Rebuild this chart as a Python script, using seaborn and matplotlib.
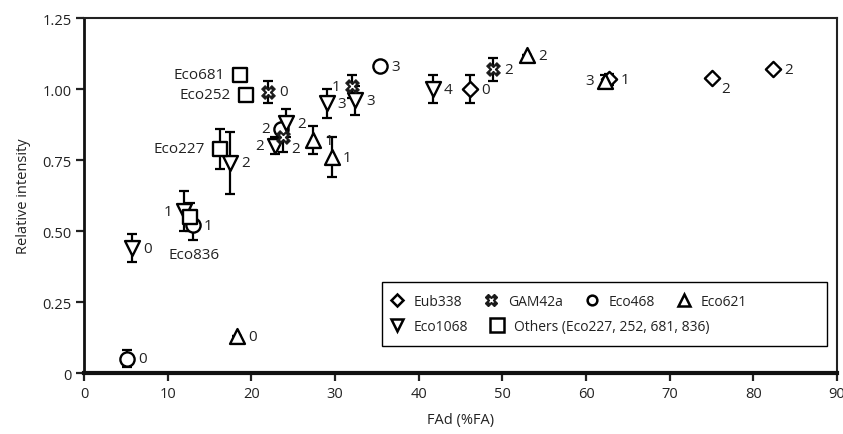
import matplotlib
matplotlib.use("Agg")
import matplotlib.pyplot as plt
from matplotlib.lines import Line2D
from matplotlib.patches import Rectangle
import seaborn as sns

# Data
eub338_x = [46.1, 62.8, 75.0, 82.3]
eub338_y = [1.00, 1.035, 1.04, 1.07]
eub338_err = [0.05, 0.02, 0.0, 0.0]
eub338_lab = ["0", "1", "2", "2"]

gam42a_x = [22.0, 23.8, 32.0, 48.9]
gam42a_y = [0.99, 0.83, 1.01, 1.07]
gam42a_err = [0.04, 0.05, 0.04, 0.04]
gam42a_lab = ["0", "2", "1", "2"]

eco468_x = [5.1, 13.0, 23.5, 35.4]
eco468_y = [0.05, 0.52, 0.86, 1.08]
eco468_err = [0.03, 0.05, 0.0, 0.0]
eco468_lab = ["0", "1", "2", "3"]

eco621_x = [18.3, 27.4, 29.6, 52.9, 62.3]
eco621_y = [0.13, 0.82, 0.76, 1.12, 1.03]
eco621_err = [0.0, 0.05, 0.07, 0.0, 0.02]
eco621_lab = ["0", "1", "1", "2", "3"]

eco1068_x = [5.7, 11.9, 17.5, 22.8, 24.2, 29.0, 32.4, 41.7]
eco1068_y = [0.44, 0.57, 0.74, 0.80, 0.88, 0.95, 0.96, 1.00]
eco1068_err = [0.05, 0.07, 0.11, 0.03, 0.05, 0.05, 0.05, 0.05]
eco1068_lab = ["0", "1", "2", "2", "2", "3", "3", "4"]

others_x = [16.3, 19.4, 18.6, 12.7]
others_y = [0.79, 0.98, 1.05, 0.55]
others_err = [0.07, 0.0, 0.02, 0.05]
others_lab = ["Eco227", "Eco252", "Eco681", "Eco836"]

x_ticks = [0, 10, 20, 30, 40, 50, 60, 70, 80, 90]
y_ticks = [0, 0.25, 0.50, 0.75, 1.00, 1.25]
y_tick_labels = ["0", "0.25", "0.50", "0.75", "1.00", "1.25"]

# label placement: default is to the right of the marker
LEFT = (-8, 0, "right", "center")
RIGHT = (8, 0, "left", "center")
label_pos = {
    ("gam42a", 2): LEFT,
    ("gam42a", 1): (6, -8, "left", "center"),
    ("eco468", 2): LEFT,
    ("eco621", 4): LEFT,
    ("eco1068", 1): LEFT,
    ("eco1068", 3): LEFT,
    ("eub338", 2): (7, -8, "left", "center"),
    ("others", 0): (-11, 0, "right", "center"),
    ("others", 1): (-11, 0, "right", "center"),
    ("others", 2): (-11, 0, "right", "center"),
    ("others", 3): (3, -27, "center", "center"),
}

TXT = "#222222"

sns.set_theme(style="ticks")
plt.rcParams["font.family"] = ["Open Sans", "DejaVu Sans"]

fig = plt.figure(figsize=(8.43, 4.35), dpi=100)
ax = fig.add_axes([0.0996, 0.140, 0.8934, 0.816])

ERR_KW = dict(fmt="none", ecolor="black", elinewidth=1.6, capsize=3.5,
              capthick=1.6, zorder=2)
OPEN_KW = dict(color="white", edgecolor="black", linewidth=1.7, zorder=3)

groups = [
    ("eub338", eub338_x, eub338_y, eub338_err, eub338_lab, "D", 60),
    ("eco468", eco468_x, eco468_y, eco468_err, eco468_lab, "o", 105),
    ("eco621", eco621_x, eco621_y, eco621_err, eco621_lab, "^", 115),
    ("eco1068", eco1068_x, eco1068_y, eco1068_err, eco1068_lab, "v", 115),
    ("others", others_x, others_y, others_err, others_lab, "s", 100),
]

for name, xs, ys, errs, labs, mk, size in groups:
    ax.errorbar(xs, ys, yerr=errs, **ERR_KW)
    sns.scatterplot(x=xs, y=ys, marker=mk, s=size, ax=ax, **OPEN_KW)

# GAM42a: filled cross with a white x inside
ax.errorbar(gam42a_x, gam42a_y, yerr=gam42a_err, **ERR_KW)
sns.scatterplot(x=gam42a_x, y=gam42a_y, marker="X", s=95, color="#1a1a1a",
                edgecolor="#1a1a1a", linewidth=0.8, ax=ax, zorder=4)
sns.scatterplot(x=gam42a_x, y=gam42a_y, marker="x", s=18, color="white",
                linewidth=1.0, ax=ax, zorder=5)

all_groups = groups + [("gam42a", gam42a_x, gam42a_y, gam42a_err, gam42a_lab, "X", 0)]
for name, xs, ys, errs, labs, mk, size in all_groups:
    for i, (xv, yv, lab) in enumerate(zip(xs, ys, labs)):
        dx, dy, ha, va = label_pos.get((name, i), RIGHT)
        ax.annotate(lab, (xv, yv), xytext=(dx, dy), textcoords="offset points",
                    ha=ha, va=va, fontsize=11, color=TXT, zorder=6)

ax.set_xlim(0, 90)
ax.set_ylim(0, 1.25)
ax.set_xticks(x_ticks)
ax.set_yticks(y_ticks)
ax.set_yticklabels(y_tick_labels)
ax.tick_params(direction="out", length=6, width=1.6, colors=TXT,
               labelsize=10.5, pad=3)
ax.set_xlabel("FAd (%FA)", fontsize=10.5, labelpad=8, color=TXT)
ax.set_ylabel("Relative intensity", fontsize=10.5, labelpad=8, color=TXT)

for side in ["top", "right"]:
    ax.spines[side].set_visible(True)
    ax.spines[side].set_linewidth(1.5)
    ax.spines[side].set_color(TXT)
ax.spines["left"].set_linewidth(2.0)
ax.spines["bottom"].set_linewidth(3.0)
ax.spines["left"].set_color("#111111")
ax.spines["bottom"].set_color("#111111")


# legend: two rows drawn as two frameless legends inside one box
def open_handle(mk, ms):
    return Line2D([], [], linestyle="none", marker=mk, markersize=ms,
                  markerfacecolor="white", markeredgecolor="black",
                  markeredgewidth=1.8)


h_eub = open_handle("D", 6)
h_gam = (Line2D([], [], linestyle="none", marker="X", markersize=8,
                markerfacecolor="#1a1a1a", markeredgecolor="#1a1a1a"),
         Line2D([], [], linestyle="none", marker="x", markersize=3.5,
                markeredgecolor="white", markeredgewidth=1.0))
h_468 = open_handle("o", 7)
h_621 = open_handle("^", 8)
h_1068 = open_handle("v", 8)
h_oth = open_handle("s", 10)

LEG_KW = dict(loc="center left", frameon=False, fontsize=10,
              handletextpad=0.7, columnspacing=1.6, handlelength=1.0,
              borderpad=0, borderaxespad=0, labelcolor=TXT)
leg1 = ax.legend([h_eub, h_gam, h_468, h_621],
                 ["Eub338", "GAM42a", "Eco468", "Eco621"], ncol=4,
                 bbox_to_anchor=(0.406, 0.203), **LEG_KW)
ax.add_artist(leg1)
leg2 = ax.legend([h_1068, h_oth],
                 ["Eco1068", "Others (Eco227, 252, 681, 836)"], ncol=2,
                 bbox_to_anchor=(0.406, 0.132), **LEG_KW)
ax.add_patch(Rectangle((0.396, 0.076), 0.591, 0.180, transform=ax.transAxes,
                       facecolor="white", edgecolor="black", linewidth=1.0,
                       zorder=1))

fig.savefig("out.png", dpi=100)
